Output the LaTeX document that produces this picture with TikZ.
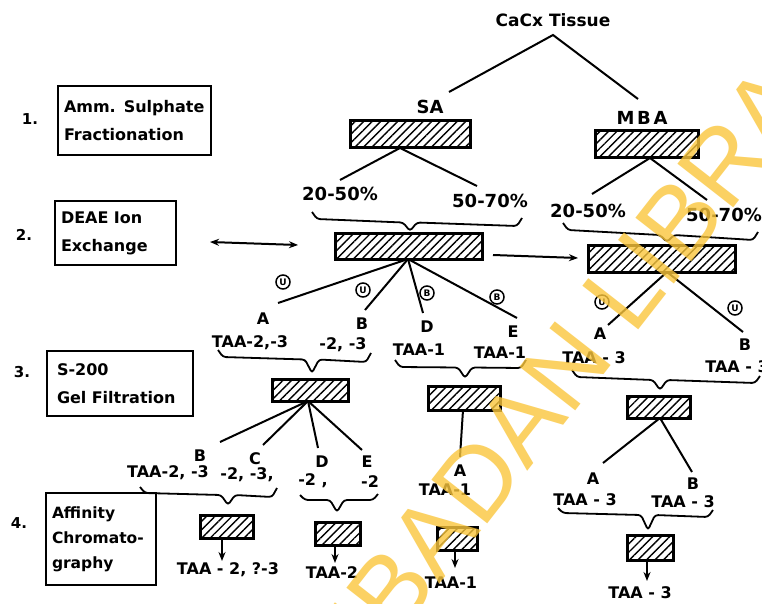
\documentclass[tikz,border=0pt]{standalone}
\usepackage{fontspec}
\setmainfont{DejaVu Sans}
\newfontfamily\wmfont{Liberation Sans}
\usetikzlibrary{patterns.meta,arrows.meta}
\definecolor{wmyel}{RGB}{250,198,60}
\hyphenpenalty=10000
\exhyphenpenalty=10000
\newcommand{\mybrace}[8]{%
  \pgfmathsetmacro{\ybm}{(#3+#7)/2}%
  \draw[brc] (#1,#2) -- (#1+5,#3) -- (#4-7,\ybm) -- (#4,#5) -- (#4+7,\ybm) -- (#6-5,#7) -- (#6,#8);}
\begin{document}
\begin{tikzpicture}[x=1pt,y=-1pt,
  hb/.style={draw, line width=3pt, inner sep=0pt,
    pattern={Lines[angle=45,distance=6pt,line width=1.4pt]}},
  lbox/.style={draw, line width=2pt, align=left, inner xsep=6pt, inner ysep=0pt,
    font=\bfseries\fontsize{16}{28}\selectfont},
  ln/.style={line width=2pt},
  arr/.style={line width=2pt, -{Stealth[length=9pt,width=7pt]}},
  brc/.style={line width=1.8pt, rounded corners=3pt},
  lab/.style={font=\bfseries\fontsize{16}{16}\selectfont, inner sep=0pt},
  per/.style={font=\bfseries\fontsize{18}{18}\selectfont, inner sep=0pt},
  big/.style={font=\bfseries\fontsize{18}{18}\selectfont, inner sep=0pt},
  num/.style={font=\bfseries\fontsize{15}{15}\selectfont, inner sep=0pt},
  circ/.style={circle, draw, line width=1.5pt, inner sep=0.5pt, minimum size=14pt,
    font=\bfseries\fontsize{9}{9}\selectfont}]
\useasboundingbox (0,0) rectangle (762,604);
\fill[white] (0,0) rectangle (762,604);

% title and first split
\node[big, font=\bfseries\fontsize{17}{17}\selectfont] (cacx) at (553,20) {CaCx Tissue};
\coordinate (ct) at (553,35);
\coordinate (saT) at (449,92);
\coordinate (mbaT) at (638,99);
\draw[ln] (saT) -- (ct) -- (mbaT);
\node[big] (sa) at (430,107) {SA};
\node[big] (mba) at (642,118) {\addfontfeatures{LetterSpace=15}MBA};

% step label boxes
\node[num] (n1) at (30,119) {1.};
\node[num] (n2) at (24,235) {2.};
\node[num] (n3) at (22,372) {3.};
\node[num] (n4) at (19,523) {4.};
\node[lbox, text width=141pt, minimum height=69pt] (b1) at (134.5,120.5) {Amm. Sulphate\\Fractionation};
\node[lbox, text width=109pt, minimum height=64pt] (b2) at (115.5,233) {DEAE Ion\\Exchange};
\node[lbox, text width=126pt, minimum height=65pt, inner xsep=10pt] (b3) at (120,383.5) {S-200\\Gel Filtration};
\node[lbox, text width=98pt, minimum height=92pt, font=\bfseries\fontsize{15.5}{25}\selectfont] (b4) at (101,539) {Affinity\\Chromato-\\graphy};

% step 1 boxes
\node[hb, minimum width=120pt, minimum height=27pt] (sa1) at (410,134.5) {};
\node[hb, minimum width=103pt, minimum height=27pt] (mba1) at (646.5,144.5) {};
\coordinate (sa1ap) at (400,148);
\coordinate (mba1ap) at (650,158);
\coordinate (p1t) at (340,180);
\coordinate (p2t) at (477,186);
\coordinate (p3t) at (592,194);
\coordinate (p4t) at (707,200);
\draw[ln] (p1t) -- (sa1ap) -- (p2t);
\draw[ln] (p3t) -- (mba1ap) -- (p4t);
\node[per] (p1) at (340,194) {20-50\%};
\node[per] (p2) at (490,201) {50-70\%};
\node[per] (p3) at (588,211) {20-50\%};
\node[per] (p4) at (724,215) {50-70\%};
\mybrace{312}{212}{219}{410}{231}{522}{226}{218}
\mybrace{563}{223}{230}{667}{242}{758}{240}{232}

% step 2 boxes
\node[hb, minimum width=147pt, minimum height=26pt] (sa2) at (408.5,246) {};
\node[hb, minimum width=147pt, minimum height=27pt] (mba2) at (661.5,258.5) {};
\coordinate (d1) at (210,242);
\coordinate (d2) at (298,245);
\draw[ln, {Stealth[length=9pt,width=7pt]}-{Stealth[length=9pt,width=7pt]}] (d1) -- (d2);
\coordinate (h1) at (493,255);
\coordinate (h2) at (578,258);
\draw[arr] (h1) -- (h2);
\coordinate (sa2ap) at (408,259);
\coordinate (mba2ap) at (667,272);
\coordinate (eA) at (278,303);
\coordinate (eB) at (365,310);
\coordinate (eD) at (423,313);
\coordinate (eE) at (517,318);
\coordinate (emA) at (608,325);
\coordinate (emB) at (743,332);
\draw[ln] (sa2ap) -- (eA);
\draw[ln] (sa2ap) -- (eB);
\draw[ln] (sa2ap) -- (eD);
\draw[ln] (sa2ap) -- (eE);
\draw[ln] (mba2ap) -- (emA);
\draw[ln] (mba2ap) -- (emB);
\node[circ] (c1) at (283,282) {U};
\node[circ] (c2) at (363,290) {U};
\node[circ] (c3) at (427,293) {B};
\node[circ] (c4) at (497,297) {B};
\node[circ] (c5) at (602,302) {U};
\node[circ] (c6) at (735,308) {U};

% row 3 labels
\node[lab] (lA) at (263,319) {A};
\node[lab] (lA2) at (250,343) {TAA-2,-3};
\node[lab] (lB) at (362,324) {B};
\node[lab] (lB2) at (343,345) {-2, -3};
\node[lab] (lD) at (427,327) {D};
\node[lab] (lD2) at (419,350) {TAA-1};
\node[lab] (lE) at (513,332) {E};
\node[lab] (lE2) at (500,353) {TAA-1};
\node[lab] (mA) at (600,334) {A};
\node[lab] (mA2) at (594,358) {TAA - 3};
\node[lab] (mB) at (745,345) {B};
\node[lab] (mB2) at (737,367) {TAA - 3};
\mybrace{218}{350}{357}{312}{373}{371}{362}{353}
\mybrace{395}{360}{367}{465}{378}{526}{368}{360}
\mybrace{572}{370}{377}{660}{390}{760}{383}{376}

% step 3 boxes
\node[hb, minimum width=76pt, minimum height=22pt] (g1) at (310,390) {};
\node[hb, minimum width=72pt, minimum height=24pt] (g2) at (464,398) {};
\node[hb, minimum width=63pt, minimum height=22pt] (g3) at (658.5,407.5) {};
\coordinate (g1ap) at (308,401);
\coordinate (g2ap) at (463,410);
\coordinate (g3ap) at (660,418);
\coordinate (fB) at (220,442);
\coordinate (fC) at (263,445);
\coordinate (fD) at (318,448);
\coordinate (fE) at (362,450);
\coordinate (fA1) at (460,457);
\coordinate (fmA) at (603,463);
\coordinate (fmB) at (692,472);
\draw[ln] (g1ap) -- (fB);
\draw[ln] (g1ap) -- (fC);
\draw[ln] (g1ap) -- (fD);
\draw[ln] (g1ap) -- (fE);
\draw[ln] (g2ap) -- (fA1);
\draw[ln] (g3ap) -- (fmA);
\draw[ln] (g3ap) -- (fmB);

% row 4 labels
\node[lab] (gB) at (200,456) {B};
\node[lab] (gB2) at (168,473) {TAA-2, -3};
\node[lab] (gC) at (255,459) {C};
\node[lab] (gC2) at (247,475) {-2, -3,};
\node[lab] (gD) at (322,462) {D};
\node[lab] (gD2) at (313,481) {-2 ,};
\node[lab] (gE) at (367,462) {E};
\node[lab] (gE2) at (370,482) {-2};
\node[lab] (hA) at (460,471) {A};
\node[lab] (hA2) at (445,490) {TAA-1};
\node[lab] (kA) at (593,479) {A};
\node[lab] (kA2) at (585,500) {TAA - 3};
\node[lab] (kB) at (693,484) {B};
\node[lab] (kB2) at (683,502) {TAA - 3};
\mybrace{140}{487}{493}{228}{505}{277}{497}{488}
\mybrace{300}{495}{500}{337}{512}{378}{500}{494}
\mybrace{558}{508}{513}{648}{530}{713}{517}{510}

% step 4 boxes
\node[hb, minimum width=53pt, minimum height=23pt] (a1) at (226.5,526.5) {};
\node[hb, minimum width=45pt, minimum height=23pt] (a2) at (337.5,533.5) {};
\node[hb, minimum width=40pt, minimum height=23pt] (a3) at (457,538.5) {};
\node[hb, minimum width=46pt, minimum height=25pt] (a4) at (650,547.5) {};
\coordinate (a1b) at (222,538);
\coordinate (a2b) at (335,545);
\coordinate (a3b) at (455,550);
\coordinate (a4b) at (647,560);
\coordinate (e1) at (222,561);
\coordinate (e2) at (335,563);
\coordinate (e3) at (455,568);
\coordinate (e4) at (647,581);
\draw[arr] (a1b) -- (e1);
\draw[arr] (a2b) -- (e2);
\draw[arr] (a3b) -- (e3);
\draw[arr] (a4b) -- (e4);
\node[lab] (r1) at (228,570) {TAA - 2, ?-3};
\node[lab] (r2) at (332,573) {TAA-2};
\node[lab] (r3) at (451,583) {TAA-1};
\node[lab] (r4) at (640,593) {TAA - 3};

% watermark
\node[text=wmyel, opacity=0.8, rotate=52, font=\wmfont\fontsize{103}{103}\selectfont, inner sep=0pt] (wm) at (614,304) {IBADAN LIBRARY};
\end{tikzpicture}
\end{document}
